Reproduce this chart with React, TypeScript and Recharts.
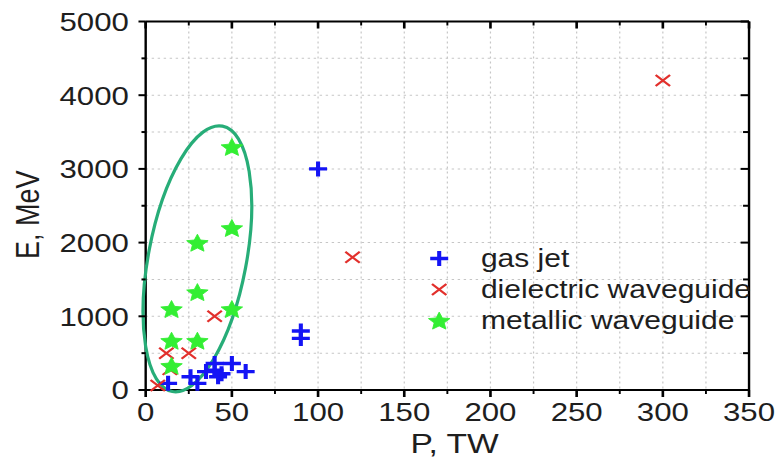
import React from 'react';
import {
  ScatterChart,
  Scatter,
  XAxis,
  YAxis,
  CartesianGrid,
  Legend,
  ReferenceDot,
  Label,
} from 'recharts';

// ---------- data ----------
const xTicks = [0, 25, 50, 75, 100, 125, 150, 175, 200, 225, 250, 275, 300, 325, 350];
const yTicks = [0, 500, 1000, 1500, 2000, 2500, 3000, 3500, 4000, 4500, 5000];

const gasJet = [
  { p: 13, e: 90 },
  { p: 26, e: 180 },
  { p: 30, e: 90 },
  { p: 35, e: 250 },
  { p: 40, e: 270 },
  { p: 42, e: 180 },
  { p: 40, e: 360 },
  { p: 44, e: 220 },
  { p: 50, e: 360 },
  { p: 58, e: 250 },
  { p: 90, e: 700 },
  { p: 90, e: 800 },
  { p: 100, e: 3000 },
];

const dielectric = [
  { p: 7, e: 60 },
  { p: 14, e: 280 },
  { p: 12, e: 500 },
  { p: 25, e: 500 },
  { p: 40, e: 1000 },
  { p: 120, e: 1800 },
  { p: 300, e: 4200 },
];

const metallic = [
  { p: 15, e: 330 },
  { p: 15, e: 670 },
  { p: 30, e: 670 },
  { p: 15, e: 1100 },
  { p: 50, e: 1100 },
  { p: 30, e: 1330 },
  { p: 30, e: 2000 },
  { p: 50, e: 2200 },
  { p: 50, e: 3300 },
];

const ellipseCenter = { p: 30, e: 1780 };

const seriesNames = ['gas jet', 'dielectric waveguide', 'metallic waveguide'];

// ---------- styles ----------
const S = 1.2; // horizontal stretch of the whole picture
const CHART_W = 646;
const CHART_H = 463;
const FONT = "'Liberation Sans', Arial, Helvetica, sans-serif";
const BLUE = '#1414f5';
const RED = '#e2302c';
const GREEN = '#33ee33';
const ELLIPSE = '#27ad78';
const TEXT = '#1e1e1e';

// ---------- markers ----------
const Plus = ({ cx, cy }: any) => (
  <path
    d={`M${cx - 7.5},${cy}H${cx + 7.5}M${cx},${cy - 7.5}V${cy + 7.5}`}
    stroke={BLUE}
    strokeWidth={3.4}
    fill="none"
  />
);

const Cross = ({ cx, cy }: any) => (
  <path
    d={`M${cx - 6},${cy - 5.5}L${cx + 6},${cy + 5.5}M${cx - 6},${cy + 5.5}L${cx + 6},${cy - 5.5}`}
    stroke={RED}
    strokeWidth={2}
    fill="none"
  />
);

const Star = ({ cx, cy }: any) => {
  const R = 9.4;
  const r = 4.4;
  const pts: string[] = [];
  for (let i = 0; i < 10; i++) {
    const ang = (-90 + i * 36) * (Math.PI / 180);
    const rad = i % 2 === 0 ? R : r;
    pts.push(`${cx + rad * Math.cos(ang)},${cy + 1 + rad * Math.sin(ang)}`);
  }
  return <polygon points={pts.join(' ')} fill={GREEN} stroke={GREEN} strokeWidth={0.8} />;
};

const markerFor = (name: string, cx: number, cy: number) => {
  if (name === seriesNames[0]) return <Plus cx={cx} cy={cy} />;
  if (name === seriesNames[1]) return <Cross cx={cx} cy={cy} />;
  return <Star cx={cx} cy={cy} />;
};

const EllipseShape = (props: any) => {
  const { cx, cy } = props;
  if (cx == null || cy == null) return null;
  return (
    <g transform={`translate(${cx},${cy}) scale(${1 / S},1) rotate(10.7)`}>
      <ellipse cx={0} cy={0} rx={49} ry={135} fill="none" stroke={ELLIPSE} strokeWidth={3.2} />
    </g>
  );
};

// ---------- ticks ----------
const BottomTick = (props: any) => {
  const { x, y, payload } = props;
  const v = payload.value;
  const major = v % 50 === 0;
  return (
    <g>
      <line x1={x} y1={y} x2={x} y2={y + (major ? 7 : 4)} stroke="#000" strokeWidth={major ? 2.2 : 1.6} />
      {major && (
        <text x={x} y={y + 31.5} textAnchor="middle" fontSize={26} fontFamily={FONT} fill={TEXT}>
          {v}
        </text>
      )}
    </g>
  );
};

const TopTick = (props: any) => {
  const { x, y, payload } = props;
  const major = payload.value % 50 === 0;
  return <line x1={x} y1={y} x2={x} y2={y + (major ? 7 : 4)} stroke="#000" strokeWidth={major ? 2.2 : 1.6} />;
};

const LeftTick = (props: any) => {
  const { x, y, payload } = props;
  const v = payload.value;
  const major = v % 1000 === 0;
  return (
    <g>
      <line x1={x} y1={y} x2={x - (major ? 6 : 3.5)} y2={y} stroke="#000" strokeWidth={2} />
      {major && (
        <text x={x - 14} y={y} dy="0.36em" textAnchor="end" fontSize={26} fontFamily={FONT} fill={TEXT}>
          {v}
        </text>
      )}
    </g>
  );
};

const RightTick = (props: any) => {
  const { x, y, payload } = props;
  const major = payload.value % 1000 === 0;
  return <line x1={x} y1={y} x2={x - (major ? 7 : 5)} y2={y} stroke="#000" strokeWidth={2} />;
};

// ---------- labels ----------
const XLabel = (props: any) => {
  const vb = props.viewBox || {};
  const x = vb.x + vb.width / 2 + 6;
  const y = vb.y + 63;
  return (
    <text x={x} y={y} textAnchor="middle" fontSize={28} fontFamily={FONT} fill={TEXT}>
      P, TW
    </text>
  );
};

const YLabel = (props: any) => {
  const vb = props.viewBox || {};
  const x = vb.x + 1;
  const y = vb.y + vb.height / 2 + 9;
  return (
    <text
      x={x}
      y={y}
      dy="0.36em"
      transform={`rotate(-90 ${x} ${y})`}
      textAnchor="middle"
      fontSize={27}
      fontFamily={FONT}
      fill={TEXT}
    >
      E, MeV
    </text>
  );
};

// ---------- legend ----------
const renderLegend = (props: any) => {
  const payload = props.payload || [];
  const ordered = seriesNames
    .map((n) => payload.find((it: any) => it.value === n))
    .filter(Boolean);
  return (
    <div style={{ fontFamily: FONT, fontSize: 25, color: TEXT }}>
      {ordered.map((item: any, i: number) => (
        <div key={i} style={{ display: 'flex', alignItems: 'center', height: 31 }}>
          <svg width={24} height={31} style={{ flex: 'none' }}>
            {markerFor(item.value, 12, 15.5)}
          </svg>
          <span style={{ marginLeft: 23, lineHeight: '31px', whiteSpace: 'nowrap' }}>{item.value}</span>
        </div>
      ))}
    </div>
  );
};

export default function App() {
  return (
    <div
      style={{
        position: 'absolute',
        left: 0,
        top: 0,
        width: CHART_W,
        height: CHART_H,
        transform: `scaleX(${S})`,
        transformOrigin: '0 0',
        background: '#fff',
        fontFamily: FONT,
      }}
    >
      <ScatterChart width={CHART_W} height={CHART_H} margin={{ top: 20.5, right: 20.8, bottom: 0, left: 21.4 }}>
        <CartesianGrid stroke="#c6c6c6" strokeDasharray="2 3" strokeWidth={1} />
        <XAxis
          type="number"
          dataKey="p"
          domain={[0, 350]}
          ticks={xTicks}
          interval={0}
          height={73}
          tickSize={0}
          tickMargin={0}
          tickLine={false}
          tick={<BottomTick />}
          axisLine={{ stroke: '#000', strokeWidth: 2 }}
        >
          <Label content={<XLabel />} />
        </XAxis>
        <XAxis
          xAxisId="top"
          orientation="top"
          type="number"
          dataKey="p"
          domain={[0, 350]}
          allowDataOverflow
          ticks={xTicks}
          interval={0}
          height={1}
          tickSize={0}
          tickMargin={0}
          tickLine={false}
          tick={<TopTick />}
          axisLine={{ stroke: '#000', strokeWidth: 2 }}
        />
        <YAxis
          type="number"
          dataKey="e"
          domain={[0, 5000]}
          ticks={yTicks}
          interval={0}
          width={100}
          tickSize={0}
          tickMargin={0}
          tickLine={false}
          tick={<LeftTick />}
          axisLine={{ stroke: '#000', strokeWidth: 2 }}
        >
          <Label content={<YLabel />} />
        </YAxis>
        <YAxis
          yAxisId="right"
          orientation="right"
          type="number"
          dataKey="e"
          domain={[0, 5000]}
          allowDataOverflow
          ticks={yTicks}
          interval={0}
          width={1}
          tickSize={0}
          tickMargin={0}
          tickLine={false}
          tick={<RightTick />}
          axisLine={{ stroke: '#000', strokeWidth: 2 }}
        />
        <ReferenceDot
          x={ellipseCenter.p}
          y={ellipseCenter.e}
          xAxisId="top"
          yAxisId="right"
          r={0}
          shape={<EllipseShape />}
          ifOverflow="visible"
        />
        <Scatter
          name={seriesNames[0]}
          data={gasJet}
          fill={BLUE}
          isAnimationActive={false}
          shape={(p: any) => <Plus cx={p.cx} cy={p.cy} />}
        />
        <Scatter
          name={seriesNames[1]}
          data={dielectric}
          fill={RED}
          isAnimationActive={false}
          shape={(p: any) => <Cross cx={p.cx} cy={p.cy} />}
        />
        <Scatter
          name={seriesNames[2]}
          data={metallic}
          fill={GREEN}
          isAnimationActive={false}
          shape={(p: any) => <Star cx={p.cx} cy={p.cy} />}
        />
        <Legend
          layout="vertical"
          align="center"
          verticalAlign="middle"
          content={renderLegend}
          wrapperStyle={{ position: 'absolute', left: 353.75, top: 243, width: 290, height: 93 }}
        />
      </ScatterChart>
    </div>
  );
}
